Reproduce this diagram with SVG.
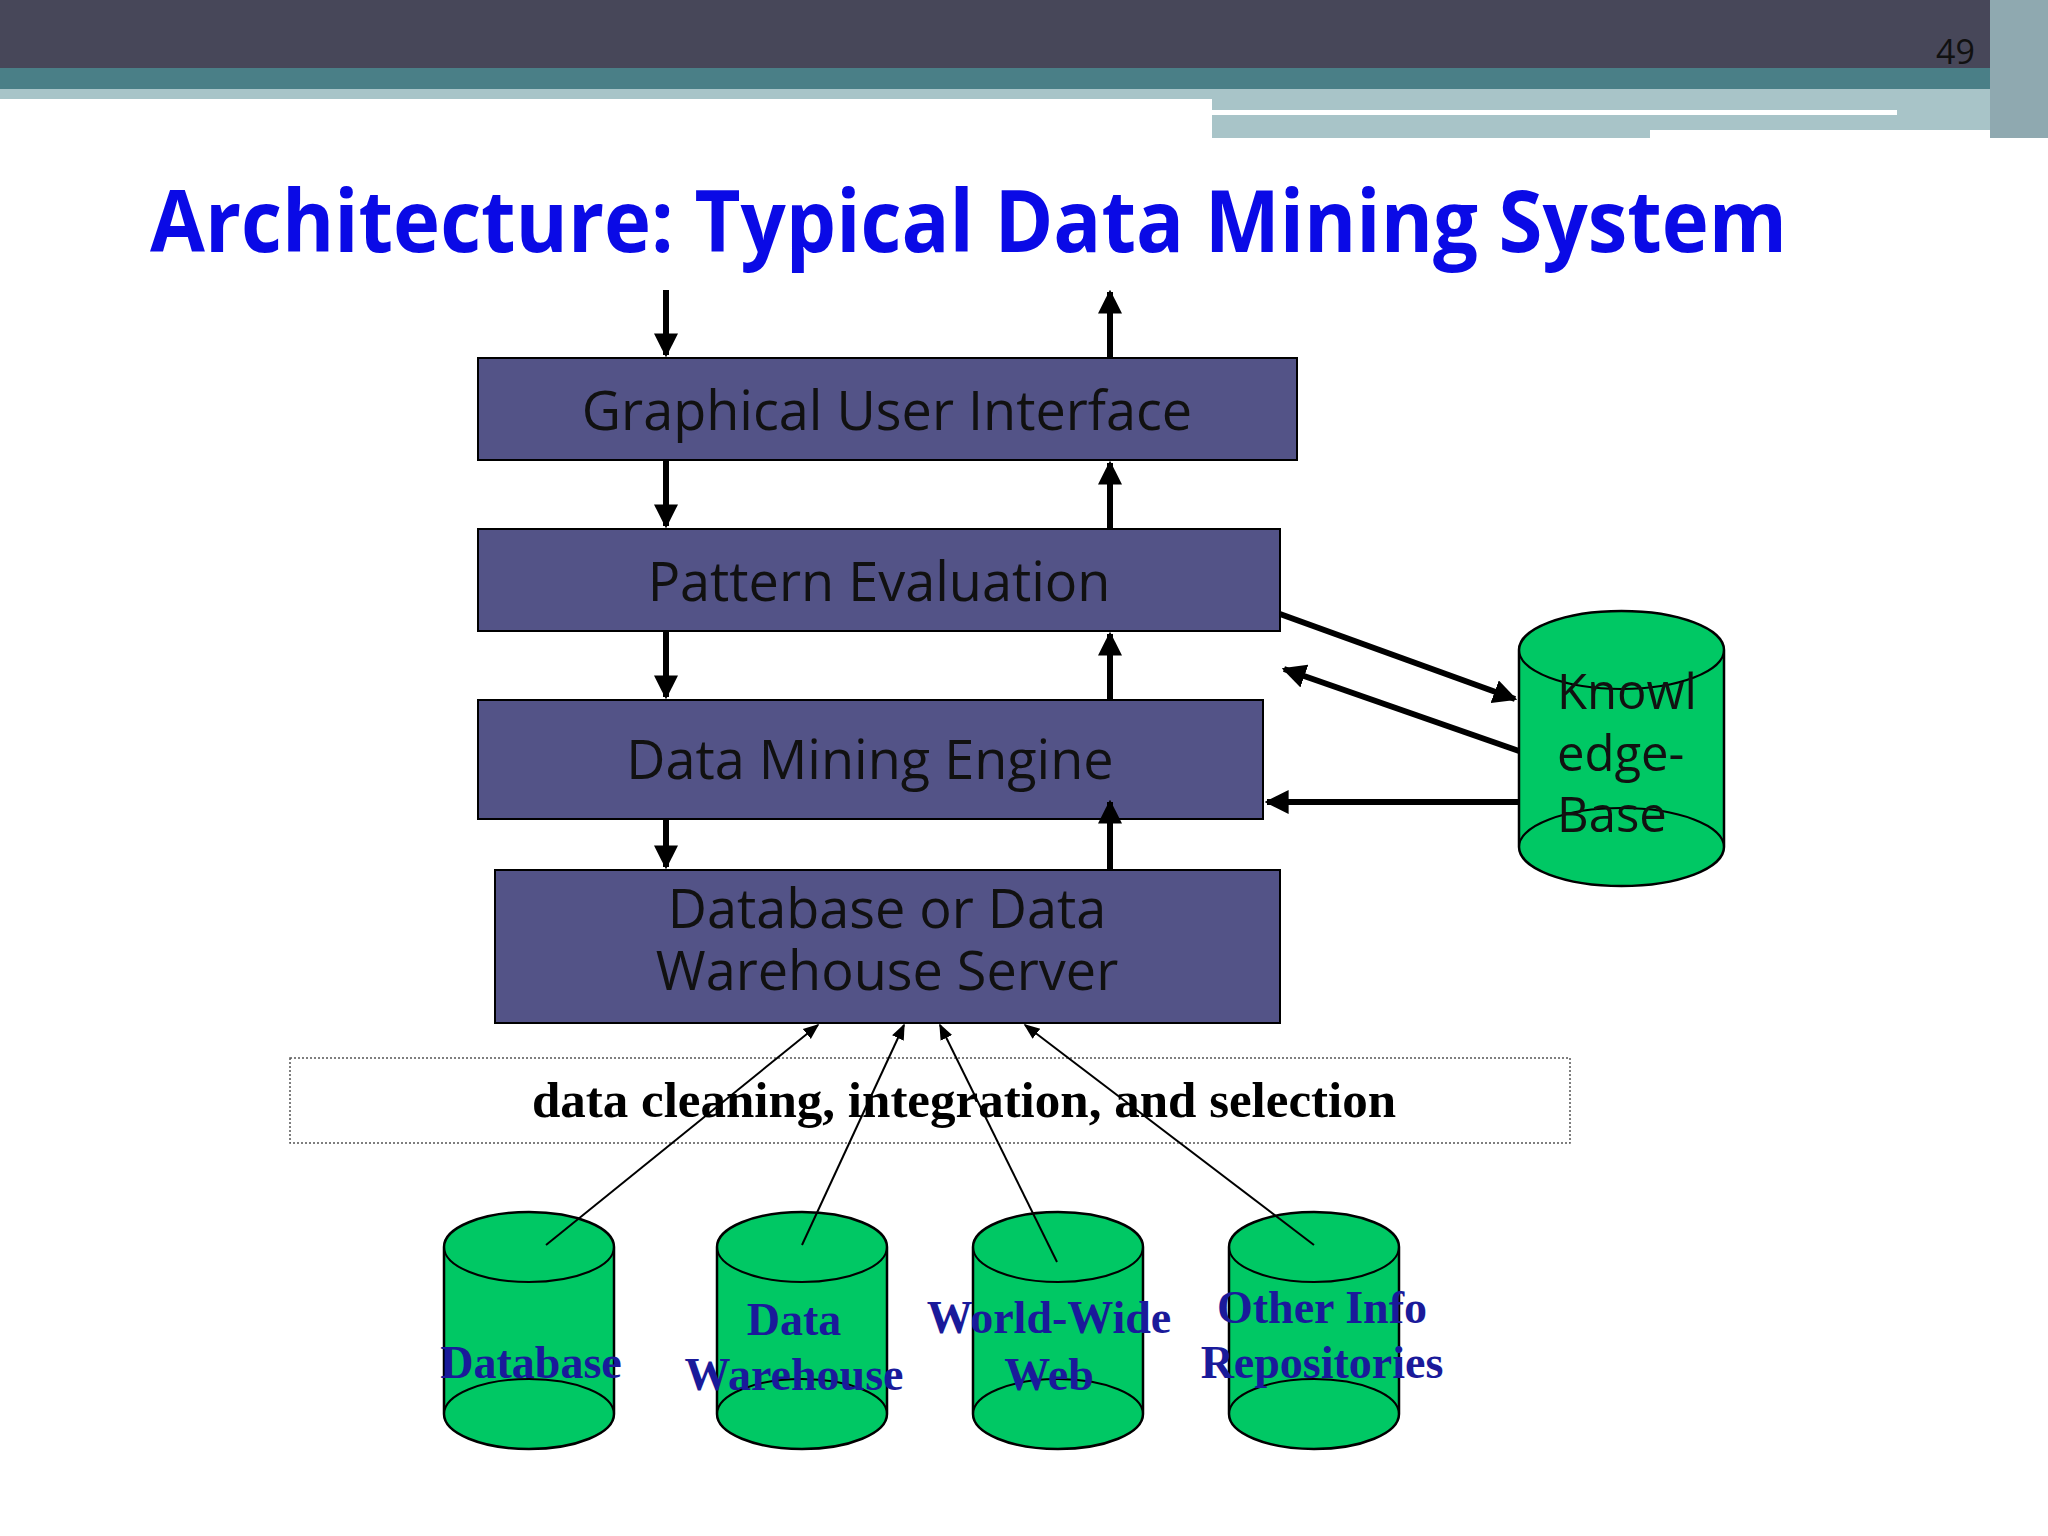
<svg xmlns="http://www.w3.org/2000/svg" width="2048" height="1536" viewBox="0 0 2048 1536">
<defs>
<style>
.box{fill:#535387;stroke:#000;stroke-width:2}
.bt{font-family:"Open Sans","DejaVu Sans",sans-serif;font-size:54px;fill:#111;text-anchor:middle}
.cyl{fill:#00c864;stroke:#000;stroke-width:2.5}
.cl{font-family:"Liberation Serif",serif;font-weight:bold;font-size:46px;fill:#1a1a9a;text-anchor:middle}
.thick{stroke:#000;stroke-width:6;fill:none}
.thin{stroke:#000;stroke-width:2;fill:none}
</style>
<marker id="ah" viewBox="0 0 10 10" refX="9" refY="5" markerWidth="4" markerHeight="4" orient="auto"><path d="M0,0L10,5L0,10z" fill="#000"/></marker>
<marker id="as" viewBox="0 0 10 10" refX="9" refY="5" markerWidth="8" markerHeight="8" orient="auto"><path d="M0,1L10,5L0,9z" fill="#000"/></marker>
</defs>
<rect width="2048" height="1536" fill="#fff"/>
<g id="header">
<rect x="0" y="0" width="2048" height="68" fill="#474759"/>
<rect x="0" y="68" width="2048" height="21" fill="#4a7f87"/>
<rect x="0" y="89" width="1212" height="10" fill="#a8c4c8"/>
<rect x="1212" y="89" width="800" height="49" fill="#a8c4c8"/>
<rect x="1212" y="110" width="685" height="5" fill="#fff"/>
<rect x="1650" y="130" width="360" height="10" fill="#fff"/>
<rect x="1990" y="0" width="58" height="138" fill="#8fa9b0"/>
<text x="1936" y="64" font-family="Open Sans,sans-serif" font-size="34" fill="#111">49</text>
</g>
<text x="150" y="252" font-family="Open Sans,DejaVu Sans,sans-serif" font-weight="bold" font-size="86" fill="#0a0ae6" textLength="1637" lengthAdjust="spacingAndGlyphs">Architecture: Typical Data Mining System</text>
<g id="gui"><rect class="box" x="478" y="358" width="819" height="102"/><text class="bt" x="887" y="430">Graphical User Interface</text></g>
<g id="pe"><rect class="box" x="478" y="529" width="802" height="102"/><text class="bt" x="879" y="601">Pattern Evaluation</text></g>
<g id="dme"><rect class="box" x="478" y="700" width="785" height="119"/><text class="bt" x="870" y="779">Data Mining Engine</text></g>
<g id="dbs"><rect class="box" x="495" y="870" width="785" height="153"/><text class="bt" x="887" y="928">Database or Data</text><text class="bt" x="887" y="990">Warehouse Server</text></g>
<g id="kb">
<path class="cyl" d="M1519,650 A102.5,39 0 0 1 1724,650 V847 A102.5,39 0 0 1 1519,847 Z"/>
<path class="thin" d="M1519,847 A102.5,39 0 0 1 1724,847" stroke-width="2.5"/>
<path class="thin" d="M1519,650 A102.5,39 0 0 0 1724,650" stroke-width="2.5"/>
<g font-family="Open Sans,DejaVu Sans,sans-serif" font-size="49" fill="#111"><text x="1557" y="709">Knowl</text><text x="1557" y="771">edge-</text><text x="1557" y="832">Base</text></g>
</g>
<g id="dbcyl">
<path class="cyl" d="M444,1247 A85,35 0 0 1 614,1247 V1414 A85,35 0 0 1 444,1414 Z"/><path class="thin" d="M444,1414 A85,35 0 0 1 614,1414 M444,1247 A85,35 0 0 0 614,1247" stroke-width="2.5"/>
<text class="cl" x="531" y="1378" font-size="50">Database</text></g>
<g id="dwcyl">
<path class="cyl" d="M717,1247 A85,35 0 0 1 887,1247 V1414 A85,35 0 0 1 717,1414 Z"/><path class="thin" d="M717,1414 A85,35 0 0 1 887,1414 M717,1247 A85,35 0 0 0 887,1247" stroke-width="2.5"/>
<text class="cl" x="794" y="1335">Data</text><text class="cl" x="794" y="1390">Warehouse</text></g>
<g id="wwwcyl">
<path class="cyl" d="M973,1247 A85,35 0 0 1 1143,1247 V1414 A85,35 0 0 1 973,1414 Z"/><path class="thin" d="M973,1414 A85,35 0 0 1 1143,1414 M973,1247 A85,35 0 0 0 1143,1247" stroke-width="2.5"/>
<text class="cl" x="1049" y="1333">World-Wide</text><text class="cl" x="1049" y="1390">Web</text></g>
<g id="othcyl">
<path class="cyl" d="M1229,1247 A85,35 0 0 1 1399,1247 V1414 A85,35 0 0 1 1229,1414 Z"/><path class="thin" d="M1229,1414 A85,35 0 0 1 1399,1414 M1229,1247 A85,35 0 0 0 1399,1247" stroke-width="2.5"/>
<text class="cl" x="1322" y="1323">Other Info</text><text class="cl" x="1322" y="1378">Repositories</text></g>
<g id="clean">
<rect x="290" y="1058" width="1280" height="85" fill="none" stroke="#555" stroke-width="1.5" stroke-dasharray="2,2"/>
<text x="964" y="1117" font-family="Liberation Serif,serif" font-weight="bold" font-size="51" fill="#000" text-anchor="middle">data cleaning, integration, and selection</text>
</g>
<g id="connectors">
<line class="thick" x1="666" y1="290" x2="666" y2="355" marker-end="url(#ah)"/>
<line class="thick" x1="1110" y1="358" x2="1110" y2="292" marker-end="url(#ah)"/>
<line class="thick" x1="666" y1="460" x2="666" y2="526" marker-end="url(#ah)"/>
<line class="thick" x1="1110" y1="529" x2="1110" y2="463" marker-end="url(#ah)"/>
<line class="thick" x1="666" y1="631" x2="666" y2="697" marker-end="url(#ah)"/>
<line class="thick" x1="1110" y1="700" x2="1110" y2="634" marker-end="url(#ah)"/>
<line class="thick" x1="666" y1="819" x2="666" y2="867" marker-end="url(#ah)"/>
<line class="thick" x1="1110" y1="870" x2="1110" y2="802" marker-end="url(#ah)"/>
<line class="thick" x1="1280" y1="614" x2="1515" y2="699" marker-end="url(#ah)"/>
<line class="thick" x1="1519" y1="751" x2="1284" y2="669" marker-end="url(#ah)"/>
<line class="thick" x1="1519" y1="802" x2="1267" y2="802" marker-end="url(#ah)"/>
<line class="thin" x1="546" y1="1245" x2="818" y2="1025" marker-end="url(#as)"/>
<line class="thin" x1="802" y1="1245" x2="904" y2="1025" marker-end="url(#as)"/>
<line class="thin" x1="1057" y1="1262" x2="940" y2="1025" marker-end="url(#as)"/>
<line class="thin" x1="1314" y1="1245" x2="1025" y2="1025" marker-end="url(#as)"/>
</g>
</svg>
